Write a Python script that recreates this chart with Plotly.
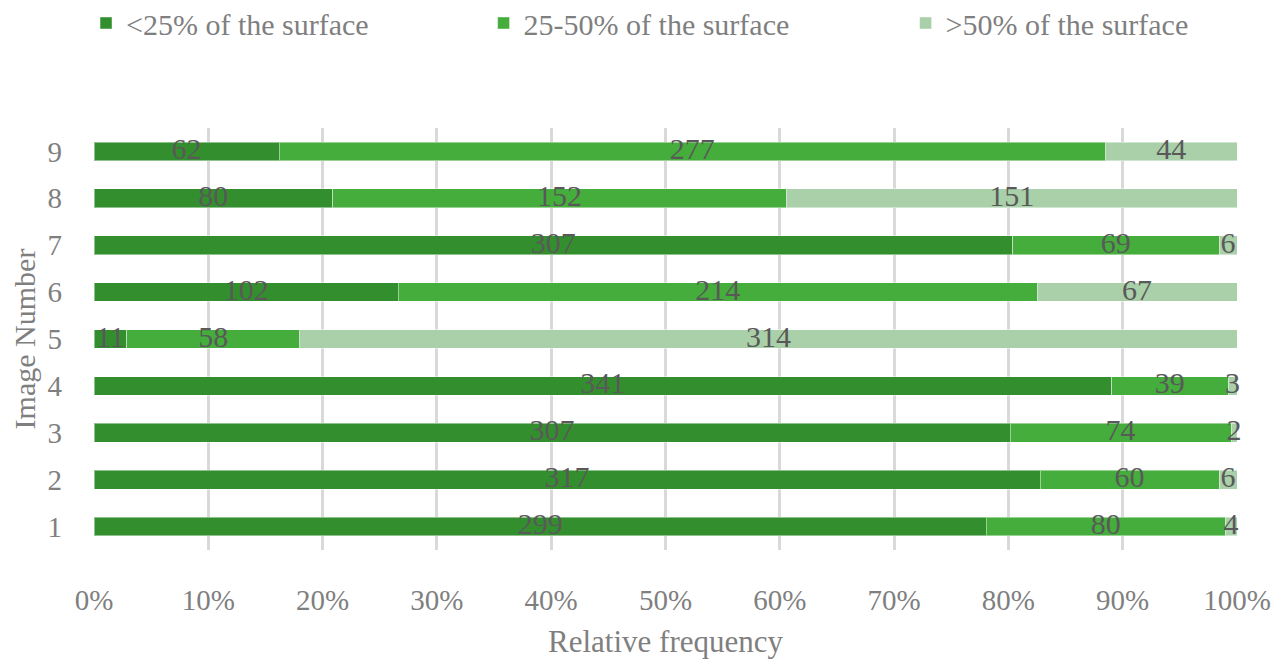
import plotly.graph_objects as go

images = ["1", "2", "3", "4", "5", "6", "7", "8", "9"]
lt25 = [299, 317, 307, 341, 11, 102, 307, 80, 62]
p25_50 = [80, 60, 74, 39, 58, 214, 69, 152, 277]
gt50 = [4, 6, 2, 3, 314, 67, 6, 151, 44]

series = [
    ("<25% of the surface", lt25, "#338F2E"),
    ("25-50% of the surface", p25_50, "#44AD3B"),
    (">50% of the surface", gt50, "#A9D0A8"),
]

FONT = "Palatino Linotype, Book Antiqua, Palatino, Liberation Serif, serif"
AX = "#7F7F7F"

totals = [a + b + c for a, b, c in zip(lt25, p25_50, gt50)]
legend_ids = ["legend", "legend2", "legend3"]
legend_x = [0.0612, 0.373, 0.704]

fig = go.Figure()
cum = [0.0] * len(images)
for (name, vals, col), lid in zip(series, legend_ids):
    pct = [100.0 * v / t for v, t in zip(vals, totals)]
    fig.add_trace(go.Bar(
        y=images, x=pct, name=name, orientation="h", legend=lid,
        marker=dict(color=col, line=dict(color="rgba(255,255,255,0.45)", width=1)),
        width=0.4, hoverinfo="skip",
    ))
    mids = [c + p / 2 for c, p in zip(cum, pct)]
    fig.add_trace(go.Scatter(
        y=images, x=mids, mode="text", text=[str(v) for v in vals],
        textposition="middle center", showlegend=False, cliponaxis=False,
        textfont=dict(family=FONT, size=30, color="#595959"), hoverinfo="skip",
    ))
    cum = [c + p for c, p in zip(cum, pct)]

legend_common = dict(orientation="h", xref="container", xanchor="left",
                     yref="container", y=0.977, yanchor="middle",
                     font=dict(family=FONT, size=30, color=AX),
                     bgcolor="rgba(0,0,0,0)", itemwidth=30)

fig.update_layout(
    barmode="stack",
    width=1275, height=651,
    margin=dict(l=86, r=46, t=120, b=109),
    paper_bgcolor="white", plot_bgcolor="white",
    font=dict(family=FONT, size=29, color=AX),
    showlegend=True,
    legend=dict(x=legend_x[0], **legend_common),
    legend2=dict(x=legend_x[1], **legend_common),
    legend3=dict(x=legend_x[2], **legend_common),
    xaxis=dict(range=[0, 100], tickvals=[0, 10, 20, 30, 40, 50, 60, 70, 80, 90, 100],
               ticktext=[f"{v}%" for v in range(0, 101, 10)],
               showgrid=True, gridcolor="#D9D9D9", gridwidth=2.5,
               zeroline=False, showline=False, ticks="", automargin=False,
               tickfont=dict(size=29, color=AX), ticklabelstandoff=30,
               title=dict(text="Relative frequency", font=dict(size=31, color=AX), standoff=26)),
    yaxis=dict(showgrid=False, zeroline=False, showline=False, ticks="",
               range=[-0.5, 8.5], automargin=False,
               tickfont=dict(size=29, color=AX), ticklabelstandoff=31,
               title=dict(text="Image Number", font=dict(size=30, color=AX), standoff=10)),
)

fig.write_html("out.html")
